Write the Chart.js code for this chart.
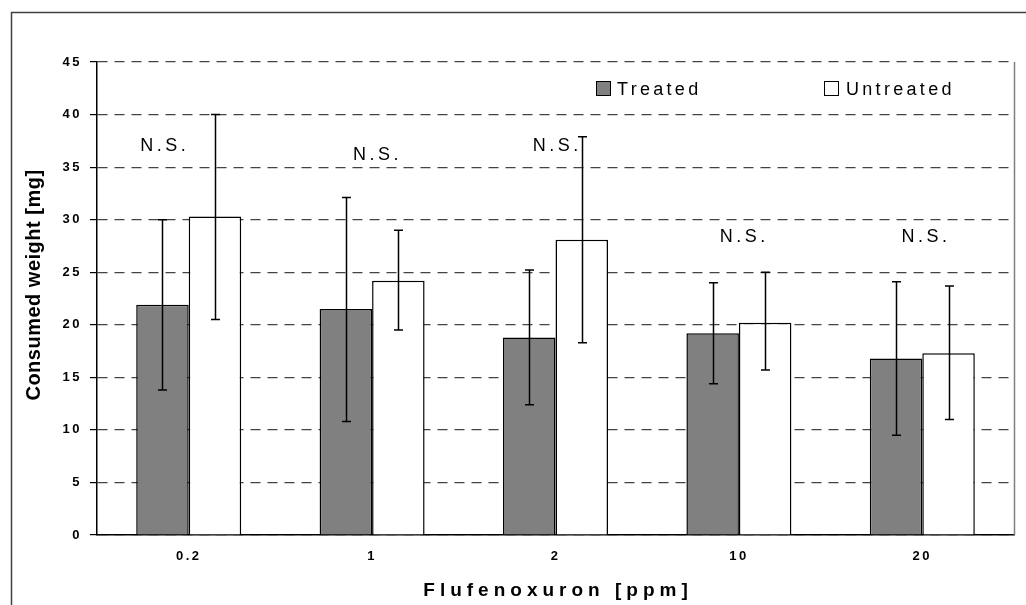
<!DOCTYPE html>
<html>
<head>
<meta charset="utf-8">
<script src="https://cdn.jsdelivr.net/npm/chart.js@4/dist/chart.umd.min.js"></script>
<style>
  html, body { margin: 0; padding: 0; background: #fff; }
  #wrap { position: relative; width: 1026px; height: 605px; }
</style>
</head>
<body>
<div id="wrap"><canvas id="c" width="1026" height="605"></canvas></div>
<script>
const categories = ['0.2', '1', '2', '10', '20'];
const treated = [21.9, 21.5, 18.8, 19.2, 16.8];
const treatedLow = [13.8, 10.8, 12.4, 14.4, 9.5];
const treatedHigh = [30.0, 32.1, 25.2, 24.0, 24.1];
const untreated = [30.3, 24.2, 28.1, 20.2, 17.3];
const untreatedLow = [20.5, 19.5, 18.3, 15.7, 11.0];
const untreatedHigh = [40.0, 29.0, 37.9, 25.0, 23.7];
const nsLabels = ['N.S.', 'N.S.', 'N.S.', 'N.S.', 'N.S.'];
const nsAt = [-0.14, 1.02, 2.0, 3.02, 4.01];
const nsValue = [36.5, 35.7, 36.5, 27.9, 27.9];
const yTicks = [0, 5, 10, 15, 20, 25, 30, 35, 40, 45];
const seriesNames = ['Treated', 'Untreated'];

const FONT = "'Liberation Sans', Arial, Helvetica, sans-serif";
const errors = [[treatedLow, treatedHigh], [untreatedLow, untreatedHigh]];

const decor = {
  id: 'decor',
  beforeDraw(chart) {
    const ctx = chart.ctx;
    ctx.save();
    ctx.fillStyle = '#fff';
    ctx.fillRect(0, 0, chart.width, chart.height);
    ctx.restore();
    if ('letterSpacing' in ctx) ctx.letterSpacing = '2.5px';
  },
  afterDatasetsDraw(chart) {
    const ctx = chart.ctx;
    const y = chart.scales.y;
    const x = chart.scales.x;
    const a = chart.chartArea;
    ctx.save();
    if ('letterSpacing' in ctx) ctx.letterSpacing = '0px';
    // right border of plot
    ctx.strokeStyle = '#808080';
    ctx.lineWidth = 1.5;
    ctx.beginPath();
    ctx.moveTo(a.right + 0.5, a.top);
    ctx.lineTo(a.right + 0.5, a.bottom);
    ctx.stroke();
    // error bars
    ctx.strokeStyle = '#000';
    ctx.lineWidth = 1.5;
    chart.data.datasets.forEach((ds, di) => {
      const meta = chart.getDatasetMeta(di);
      meta.data.forEach((bar, i) => {
        const yl = y.getPixelForValue(errors[di][0][i]);
        const yh = y.getPixelForValue(errors[di][1][i]);
        const bx = Math.round(bar.x) + 0.5;
        ctx.beginPath();
        ctx.moveTo(bx, yl); ctx.lineTo(bx, yh);
        ctx.moveTo(bx - 4.5, yl); ctx.lineTo(bx + 4.5, yl);
        ctx.moveTo(bx - 4.5, yh); ctx.lineTo(bx + 4.5, yh);
        ctx.stroke();
      });
    });
    // N.S. labels
    ctx.fillStyle = '#000';
    ctx.font = '18px ' + FONT;
    ctx.textAlign = 'center';
    ctx.textBaseline = 'alphabetic';
    if ('letterSpacing' in ctx) ctx.letterSpacing = '3.5px';
    nsLabels.forEach((t, i) => {
      ctx.fillText(t, x.getPixelForValue(nsAt[i]) + 1.75, y.getPixelForValue(nsValue[i]));
    });
    ctx.restore();
  },
  afterDraw(chart) {
    const ctx = chart.ctx;
    const a = chart.chartArea;
    ctx.save();
    // outer frame
    ctx.strokeStyle = '#404040';
    ctx.lineWidth = 1.5;
    ctx.beginPath();
    ctx.moveTo(11.5, chart.height);
    ctx.lineTo(11.5, 12.5);
    ctx.lineTo(chart.width, 12.5);
    ctx.stroke();
    // legend
    const items = [
      { name: seriesNames[0], fill: '#808080', bx: 596, tx: 617 },
      { name: seriesNames[1], fill: '#ffffff', bx: 824, tx: 846 }
    ];
    ctx.font = '18px ' + FONT;
    ctx.textAlign = 'left';
    ctx.textBaseline = 'alphabetic';
    if ('letterSpacing' in ctx) ctx.letterSpacing = '3.3px';
    items.forEach(it => {
      ctx.fillStyle = it.fill;
      ctx.fillRect(it.bx, 81, 14, 14);
      ctx.strokeStyle = '#000';
      ctx.lineWidth = 1;
      ctx.strokeRect(it.bx + 0.5, 81.5, 14, 14);
      ctx.fillStyle = '#000';
      ctx.fillText(it.name, it.tx, 95);
    });
    // x title
    ctx.font = 'bold 19px ' + FONT;
    ctx.textAlign = 'center';
    if ('letterSpacing' in ctx) ctx.letterSpacing = '5px';
    ctx.fillText('Flufenoxuron [ppm]', (a.left + a.right) / 2 + 2.5, 596);
    // y title
    ctx.translate(40, 285);
    ctx.rotate(-Math.PI / 2);
    ctx.font = 'bold 20px ' + FONT;
    if ('letterSpacing' in ctx) ctx.letterSpacing = '0.5px';
    ctx.fillText('Consumed weight [mg]', 0, 0);
    ctx.restore();
  }
};

new Chart(document.getElementById('c'), {
  type: 'bar',
  data: {
    labels: categories,
    datasets: [
      { label: seriesNames[0], data: treated, backgroundColor: '#808080', borderColor: '#000', borderWidth: 1.5 },
      { label: seriesNames[1], data: untreated, backgroundColor: '#ffffff', borderColor: '#000', borderWidth: 1.5 }
    ]
  },
  options: {
    responsive: false,
    animation: false,
    devicePixelRatio: 1,
    categoryPercentage: 0.5725,
    barPercentage: 1.0,
    layout: { padding: { left: 0, top: 62, right: 12, bottom: 0 } },
    plugins: { legend: { display: false }, tooltip: { enabled: false }, title: { display: false } },
    scales: {
      x: {
        grid: { display: false, drawTicks: false },
        border: { display: true, color: '#000', width: 1.5 },
        ticks: { color: '#000', font: { family: FONT, size: 13, weight: 'bold' }, padding: 14 },
        afterFit(s) { s.height = 70; }
      },
      y: {
        min: 0, max: 45,
        afterBuildTicks(s) { s.ticks = yTicks.map(v => ({ value: v })); },
        grid: { color: '#444', lineWidth: 1.2, drawTicks: true, tickLength: 7, tickColor: '#000' },
        border: { display: true, color: '#000', width: 1.5, dash: [10, 7] },
        ticks: { color: '#000', font: { family: FONT, size: 13, weight: 'bold' }, padding: 8 },
        afterFit(s) { s.width = 97; }
      }
    }
  },
  plugins: [decor]
});
</script>
</body>
</html>
